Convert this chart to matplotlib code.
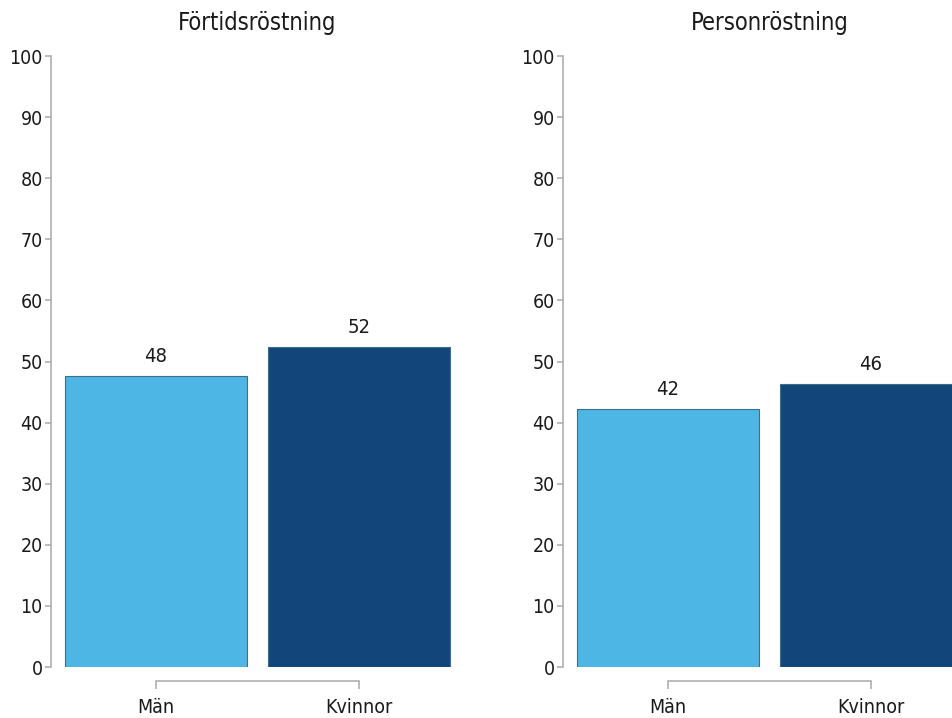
import matplotlib
matplotlib.use("Agg")
import matplotlib.pyplot as plt
from matplotlib import font_manager

# Data (bar heights; labels shown rounded)
panels = ["Förtidsröstning", "Personröstning"]
categories = ["Män", "Kvinnor"]
fortid_values = [47.6, 52.4]
person_values = [42.2, 46.3]
all_values = [fortid_values, person_values]

bar_colors = ["#4db6e4", "#12457a"]
yticks = list(range(0, 101, 10))

names = {f.name for f in font_manager.fontManager.ttflist}
if "Liberation Sans Narrow" in names:
    plt.rcParams["font.family"] = ["Liberation Sans Narrow", "DejaVu Sans"]
else:
    plt.rcParams["font.family"] = ["DejaVu Sans"]
    plt.rcParams["font.stretch"] = "condensed"

text_col = "#1a1a1a"
axis_col = "#b0b0b0"

fig = plt.figure(figsize=(9.52, 7.18), dpi=100)

# axes positions in figure fraction (the right panel runs off the edge)
positions = [[0.0536, 0.071, 0.4338, 0.851],
             [0.5914, 0.071, 0.4338, 0.851]]

for pos, title, vals in zip(positions, panels, all_values):
    ax = fig.add_axes(pos)
    x = list(range(len(categories)))
    bars = ax.bar(x, vals, width=0.897, color=bar_colors,
                  edgecolor="#3d6f8a", linewidth=0.8)
    for b, v in zip(bars, vals):
        ax.annotate(f"{v:.0f}", (b.get_x() + b.get_width() / 2, v),
                    xytext=(0, 7), textcoords="offset points",
                    ha="center", va="bottom", fontsize=14.5, color=text_col)

    ax.set_xlim(-0.517, 1.517)
    ax.set_ylim(0, 100)
    ax.set_yticks(yticks)
    ax.set_xticks(x)
    ax.set_xticklabels(categories)

    for s in ["top", "right"]:
        ax.spines[s].set_visible(False)
    ax.spines["left"].set_color(axis_col)
    ax.spines["left"].set_linewidth(1.2)
    ax.spines["bottom"].set_color(axis_col)
    ax.spines["bottom"].set_linewidth(1.2)
    ax.spines["bottom"].set_position(("outward", 10))
    ax.spines["bottom"].set_bounds(0, 1)

    ax.tick_params(axis="y", length=4, width=1.2, color=axis_col,
                   labelsize=14, labelcolor=text_col, pad=2)
    ax.tick_params(axis="x", length=6, width=1.2, color=axis_col,
                   labelsize=14, labelcolor=text_col, pad=6)

    ax.set_title(title, fontsize=17, color=text_col, pad=19)

fig.savefig("out.png", dpi=100)
